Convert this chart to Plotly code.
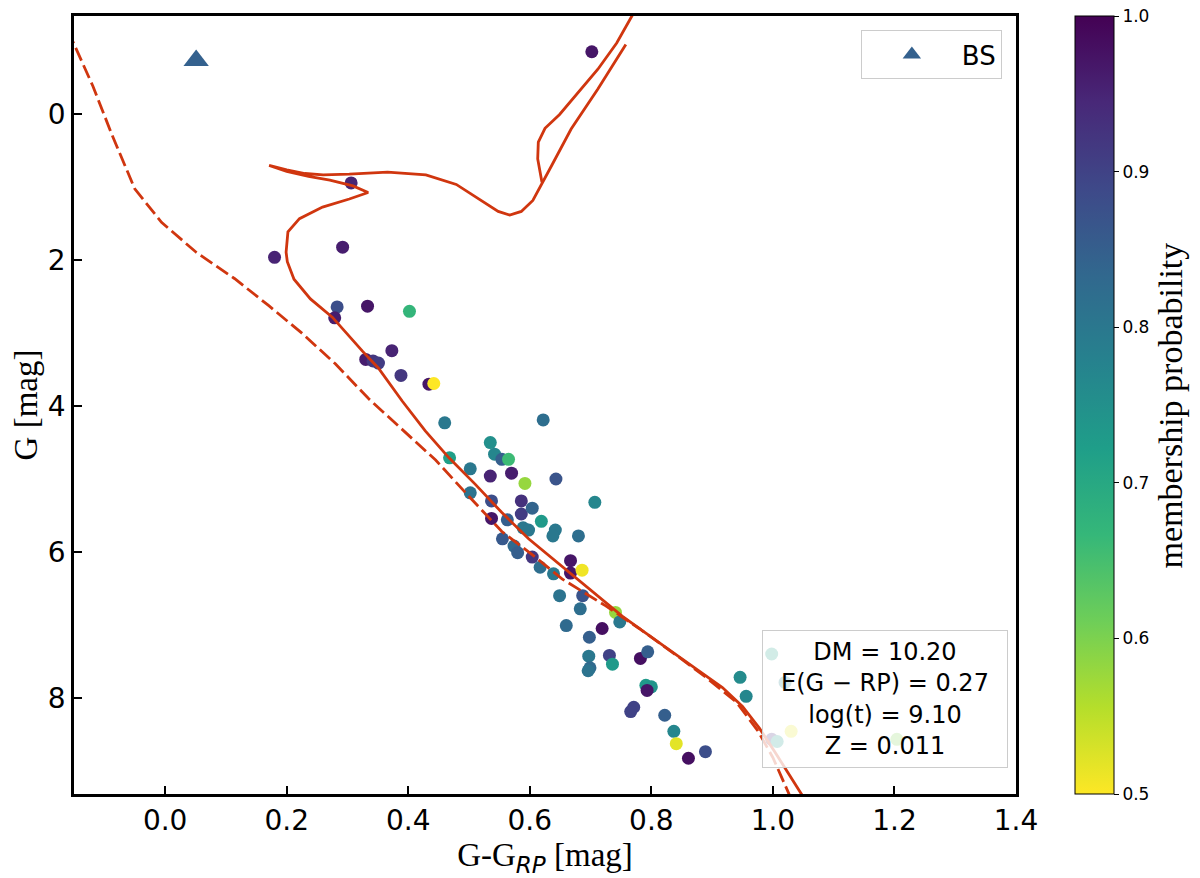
import plotly.graph_objects as go

# cluster members: colour G-G_RP, G magnitude, membership probability
star_color = [0.702, 0.306, 0.292, 0.180, 0.283, 0.279, 0.333, 0.402, 0.373, 0.330,
              0.342, 0.351, 0.388, 0.434, 0.442, 0.460, 0.622, 0.535, 0.468, 0.542,
              0.554, 0.565, 0.502, 0.535, 0.570, 0.592, 0.643, 0.707, 0.502, 0.537,
              0.586, 0.537, 0.563, 0.586, 0.604, 0.619, 0.589, 0.598, 0.642, 0.638,
              0.680, 0.555, 0.574, 0.580, 0.604, 0.617, 0.639, 0.667, 0.667, 0.686,
              0.649, 0.687, 0.683, 0.741, 0.748, 0.660, 0.719, 0.698, 0.697, 0.731,
              0.736, 0.782, 0.794, 0.699, 0.696, 0.791, 0.800, 0.793, 0.946, 0.956,
              0.998, 1.020, 0.771, 0.766, 0.822, 0.837, 0.841, 0.861, 0.889, 1.030,
              0.998, 1.007, 1.204]
star_g = [-0.86, 0.94, 1.82, 1.96, 2.64, 2.79, 2.63, 2.70, 3.24, 3.36,
          3.38, 3.41, 3.58, 3.70, 3.69, 4.23, 4.19, 4.50, 4.71, 4.66,
          4.73, 4.73, 4.86, 4.96, 4.92, 5.06, 5.00, 5.32, 5.19, 5.30,
          5.30, 5.54, 5.56, 5.48, 5.40, 5.58, 5.67, 5.70, 5.70, 5.78,
          5.78, 5.82, 5.92, 6.01, 6.07, 6.21, 6.30, 6.12, 6.29, 6.25,
          6.60, 6.60, 6.78, 6.83, 6.96, 7.01, 7.05, 7.17, 7.43, 7.42,
          7.54, 7.46, 7.37, 7.59, 7.63, 7.83, 7.85, 7.90, 7.72, 7.98,
          7.40, 7.79, 8.13, 8.19, 8.24, 8.46, 8.63, 8.83, 8.74, 8.46,
          8.57, 8.60, 8.57]
star_prob = [0.97, 0.95, 0.96, 0.95, 0.88, 0.96, 0.97, 0.67, 0.95, 0.96,
             0.92, 0.91, 0.92, 0.97, 0.50, 0.80, 0.82, 0.75, 0.72, 0.77,
             0.85, 0.66, 0.80, 0.95, 0.96, 0.58, 0.87, 0.77, 0.81, 0.88,
             0.93, 0.97, 0.85, 0.91, 0.84, 0.73, 0.80, 0.80, 0.80, 0.80,
             0.82, 0.86, 0.83, 0.85, 0.92, 0.82, 0.80, 0.97, 0.97, 0.51,
             0.81, 0.87, 0.82, 0.58, 0.80, 0.83, 0.98, 0.85, 0.80, 0.90,
             0.73, 0.98, 0.85, 0.83, 0.81, 0.73, 0.74, 0.97, 0.76, 0.77,
             0.72, 0.78, 0.90, 0.90, 0.85, 0.77, 0.52, 0.98, 0.88, 0.52,
             0.93, 0.73, 0.60]

# blue straggler
bs_color = [0.051]
bs_g = [-0.74]

# best fit isochrone (MS -> turnoff hook -> subgiants -> RGB), then the He-burning branch
iso_color = [1.062, 1.050, 1.027, 1.003, 0.978, 0.950, 0.917, 0.862, 0.807, 0.752,
             0.697, 0.653, 0.598, 0.554, 0.510, 0.467, 0.428, 0.390, 0.351, 0.325,
             0.297, 0.275, 0.239, 0.212, 0.201, 0.199, 0.202, 0.221, 0.259, 0.303,
             0.334, 0.309, 0.271, 0.236, 0.200, 0.171, 0.200, 0.230, 0.260, 0.303,
             0.366, 0.429, 0.479, 0.523, 0.548, 0.567, 0.586, 0.605, 0.617, 0.636,
             0.668, 0.712, 0.758, None,
             0.620, 0.613, 0.614, 0.625, 0.649, 0.680, 0.712, 0.743, 0.768, 0.785]
iso_g = [9.52, 9.36, 9.06, 8.74, 8.42, 8.12, 7.86, 7.54, 7.21, 6.88,
         6.50, 6.20, 5.82, 5.46, 5.07, 4.71, 4.34, 3.93, 3.48, 3.25,
         2.98, 2.78, 2.53, 2.26, 2.02, 1.89, 1.61, 1.43, 1.27, 1.16,
         1.07, 0.98, 0.90, 0.85, 0.78, 0.70, 0.76, 0.81, 0.83, 0.82,
         0.79, 0.83, 0.96, 1.19, 1.33, 1.38, 1.33, 1.18, 1.00, 0.70,
         0.20, -0.35, -0.96, None,
         0.93, 0.61, 0.38, 0.19, 0.00, -0.30, -0.62, -0.98, -1.35, -1.55]

# dashed reference sequence
zams_color = [-0.160, -0.146, -0.119, -0.087, -0.050, -0.006, 0.051, 0.114, 0.170, 0.225,
              0.280, 0.335, 0.390, 0.445, 0.500, 0.554, 0.609, 0.653, 0.725, 0.780,
              0.835, 0.890, 0.940, 0.975, 1.000, 1.026, 1.036]
zams_g = [-1.15, -0.89, -0.39, 0.29, 1.02, 1.48, 1.89, 2.25, 2.62, 3.00,
          3.42, 3.90, 4.32, 4.74, 5.24, 5.72, 6.07, 6.37, 6.74, 7.05,
          7.38, 7.72, 8.06, 8.45, 8.82, 9.32, 9.50]

x_ticks = [0.0, 0.2, 0.4, 0.6, 0.8, 1.0, 1.2, 1.4]
y_ticks = [0, 2, 4, 6, 8]
cbar_ticks = [0.5, 0.6, 0.7, 0.8, 0.9, 1.0]
fit_text = ["DM = 10.20", "E(G \u2212 RP) = 0.27", "log(t) = 9.10", "Z = 0.011"]

line_red = "#d0360f"

fig = go.Figure()

#members coloured by probability
fig.add_trace(go.Scatter(
    x=star_color, y=star_g, mode="markers", showlegend=False,
    marker=dict(size=13, color=star_prob, colorscale="Viridis_r", cmin=0.5, cmax=1.0,
                line=dict(width=0),
                colorbar=dict(x=1.0625, xanchor="left", xpad=0, ypad=0, thickness=39,
                              len=1, y=0.5, yanchor="middle",
                              outlinewidth=1, outlinecolor="black",
                              tickvals=cbar_ticks, tickformat=".1f", ticks="outside",
                              ticklen=5, tickcolor="black", ticklabeloverflow="allow",
                              tickfont=dict(family="DejaVu Sans", size=17, color="black")))))

fig.add_trace(go.Scatter(
    x=zams_color, y=zams_g, mode="lines", showlegend=False,
    line=dict(color=line_red, width=2.8, dash="14px,5px")))

fig.add_trace(go.Scatter(
    x=iso_color, y=iso_g, mode="lines", showlegend=False, connectgaps=False,
    line=dict(color=line_red, width=2.8)))

fig.add_trace(go.Scatter(
    x=bs_color, y=bs_g, mode="markers", name="BS",
    marker=dict(symbol="triangle-up", size=22, color="#34618e")))

# page body has an 8px margin, so the figure is a bit smaller and shifted up/left
fig.update_layout(width=1192, height=870,
                  margin=dict(l=64, r=184, t=5, b=84),
                  plot_bgcolor="white", paper_bgcolor="white",
                  font=dict(family="DejaVu Sans", color="black"))

fig.update_xaxes(range=[-0.15, 1.40], tickvals=x_ticks, tickformat=".1f",
                 showgrid=False, zeroline=False,
                 showline=True, mirror=True, linecolor="black", linewidth=2.6,
                 ticks="inside", ticklen=8, tickwidth=1.5, tickcolor="black",
                 tickfont=dict(family="DejaVu Sans", size=28),
                 title=dict(text="G-G<sub><i><span style='font-family:DejaVu Sans'>RP</span></i></sub> [mag]",
                            font=dict(family="Liberation Serif", size=33), standoff=10))

fig.update_yaxes(range=[9.32, -1.35], tickvals=y_ticks,
                 showgrid=False, zeroline=False,
                 showline=True, mirror=True, linecolor="black", linewidth=2.6,
                 ticks="inside", ticklen=8, tickwidth=1.5, tickcolor="black",
                 tickfont=dict(family="DejaVu Sans", size=28),
                 title=dict(text="G [mag]",
                            font=dict(family="Liberation Serif", size=33), standoff=12))

#legend for the blue straggler, top right corner
fig.update_layout(legend=dict(x=0.985, y=0.982, xanchor="right", yanchor="top",
                              bgcolor="rgba(255,255,255,0.8)", bordercolor="#cccccc",
                              borderwidth=1, itemwidth=90,
                              font=dict(family="DejaVu Sans", size=26)))

#colorbar label, placed by hand to sit further right like the original
fig.add_annotation(x=1.164, y=0.5, xref="paper", yref="paper",
                   xanchor="center", yanchor="middle", textangle=-90,
                   text="membership probability", showarrow=False,
                   font=dict(family="Liberation Serif", size=34, color="black"))

#fit parameters box
fig.add_annotation(x=0.861, y=0.1216, xref="paper", yref="paper",
                   xanchor="center", yanchor="middle",
                   text="<br>".join(fit_text), showarrow=False, align="center",
                   font=dict(family="DejaVu Sans", size=24, color="black"),
                   bgcolor="rgba(255,255,255,0.8)", bordercolor="#cccccc", borderwidth=1,
                   borderpad=4, width=236, height=128)

fig.write_html("out.html")
